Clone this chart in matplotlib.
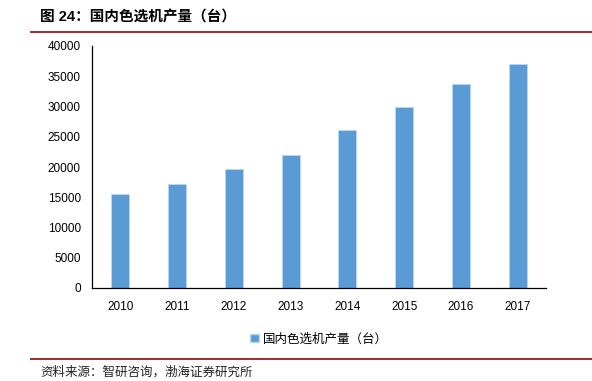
import matplotlib
matplotlib.use("Agg")
import matplotlib.pyplot as plt
from matplotlib.lines import Line2D
from matplotlib.patches import Patch

plt.rcParams["font.family"] = ["Liberation Sans", "Noto Sans CJK SC", "DejaVu Sans"]

years = ["2010", "2011", "2012", "2013", "2014", "2015", "2016", "2017"]
output_units = [15500, 17200, 19600, 22000, 26100, 29900, 33800, 37100]
series_name = "国内色选机产量（台）"
title = "图 24：国内色选机产量（台）"
source = "资料来源：智研咨询，渤海证券研究所"

BAR = "#5B9BD5"
RED = "#9E2A2B"

fig = plt.figure(figsize=(5.92, 3.81), dpi=100)
ax = fig.add_axes([92 / 592, 1 - 288 / 381, 454 / 592, 242 / 381])

x = range(len(years))
ax.bar(x, output_units, width=0.32, color=BAR, edgecolor="#BDD7EE", linewidth=0.6)
ax.set_xlim(-0.5, len(years) - 0.5)
ax.set_ylim(0, 40000)
ax.set_yticks(range(0, 40001, 5000))
ax.set_xticks(list(x))
ax.set_xticklabels(years, fontsize=8.5)
ax.tick_params(axis="y", labelsize=8.5, length=0, pad=8)
ax.tick_params(axis="x", length=0, pad=9)
for s in ["top", "right"]:
    ax.spines[s].set_visible(False)
ax.spines["left"].set_color("#000000")
ax.spines["bottom"].set_color("#000000")
ax.spines["left"].set_linewidth(0.9)
ax.spines["bottom"].set_linewidth(0.9)

ax.legend(handles=[Patch(facecolor=BAR, edgecolor="#BDD7EE", label=series_name)],
          loc="center", bbox_to_anchor=(0.5, -0.21), frameon=False,
          handlelength=0.7, handleheight=0.7, handletextpad=0.3,
          prop={"family": ["Noto Sans CJK SC"], "size": 9})

fig.text(40 / 592, 1 - 17 / 381, title, fontsize=10.5, fontweight="bold",
         va="center", ha="left", family=["Liberation Sans", "Noto Sans CJK SC"])
fig.add_artist(Line2D([31 / 592, 1], [1 - 31.5 / 381] * 2, color=RED, linewidth=1.4))
fig.add_artist(Line2D([31 / 592, 1], [1 - 359 / 381] * 2, color=RED, linewidth=1.4))
fig.text(40 / 592, 1 - 372 / 381, source, fontsize=9, style="italic",
         va="center", ha="left", family=["Noto Sans CJK SC"], color="#222222")

fig.savefig("out.png", dpi=100)
